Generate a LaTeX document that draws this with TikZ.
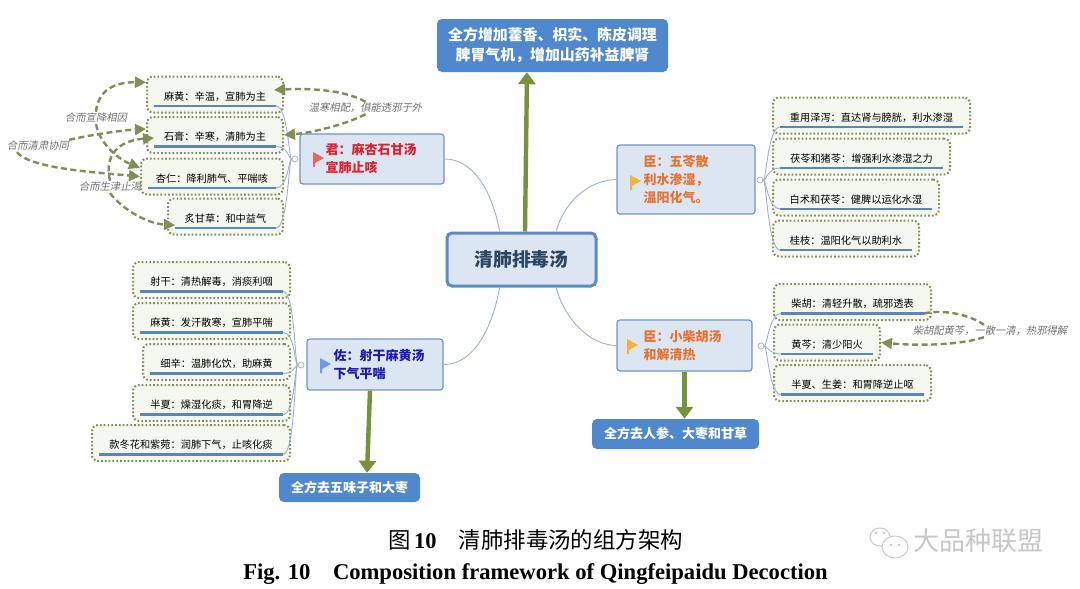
\documentclass[tikz,border=0pt]{standalone}
\usepackage{fontspec}
\setmainfont{Noto Sans CJK SC}
\newfontfamily\annfont[FakeSlant=0.2]{Noto Sans CJK SC}
\newfontfamily\capfont{Liberation Serif}
\usetikzlibrary{arrows.meta,positioning,calc}
\definecolor{oliv}{HTML}{76923C}
\definecolor{olivd}{HTML}{7F8F55}
\definecolor{boxb}{HTML}{4F88CC}
\definecolor{boxl}{HTML}{DCE6F2}
\definecolor{edgeb}{HTML}{7394BE}
\definecolor{coreb}{HTML}{5B8AC4}
\definecolor{lnb}{HTML}{5B85BD}
\definecolor{thinb}{HTML}{9FB1CA}
\definecolor{leaff}{HTML}{F5F8EE}
\definecolor{txred}{HTML}{E0202F}
\definecolor{txora}{HTML}{E97132}
\definecolor{txblu}{HTML}{1A1AB8}
\definecolor{flred}{HTML}{E8636A}
\definecolor{flyel}{HTML}{F5B335}
\definecolor{flblu}{HTML}{6E9DE6}
\begin{document}
\begin{tikzpicture}[x=1pt,y=-1pt,
  lf/.style={draw=olivd, fill=leaff, rounded corners=6pt, line width=2pt, dash pattern=on 1.7pt off 2.1pt, minimum height=36pt, inner sep=0pt, text height=11.5pt, text depth=0pt, font=\fontsize{10.2}{13}\selectfont},
  grp/.style={draw=edgeb, fill=boxl, rounded corners=3pt, line width=1.2pt, inner sep=0pt},
  gtx/.style={anchor=west, inner sep=0pt, align=left, font=\fontsize{13}{18}\selectfont\bfseries},
  res/.style={fill=boxb, rounded corners=5pt, text=white, inner sep=0pt, align=center, font=\fontsize{13}{20}\selectfont\bfseries},
  ann/.style={text=black!55, inner sep=0pt, minimum height=12pt, font=\annfont\fontsize{10.3}{12}\selectfont},
  hub/.style={circle, draw=thinb, fill=white, line width=.7pt, minimum size=6pt, inner sep=0pt},
  uline/.style={draw=lnb, line width=2.2pt},
  branch/.style={draw=thinb, line width=.9pt},
  bigarr/.style={draw=oliv, line width=4.4pt, -{Triangle[length=12pt,width=17pt]}},
  dsh/.style={draw=olivd, line width=2.4pt, dash pattern=on 6pt off 3.5pt},
  dsharr/.style={dsh, -{Triangle[length=11pt,width=11pt]}}]
\useasboundingbox (0,0) rectangle (1080,589);

\node[draw=coreb, fill=boxl, rounded corners=5pt, line width=3pt, minimum width=149pt, minimum height=53pt, inner sep=0pt, text=black!50!coreb, font=\fontsize{18.8}{22}\selectfont\bfseries] (core) at (521.5,259.5) {清肺排毒汤};

\node[grp, minimum width=144pt, minimum height=50pt] (jun) at (372,159) {};
\node[grp, minimum width=138pt, minimum height=69pt] (chw) at (686,179.5) {};
\node[grp, minimum width=136pt, minimum height=51pt] (zuo) at (375,364.5) {};
\node[grp, minimum width=135pt, minimum height=51pt] (chx) at (684.5,345.5) {};
\node[gtx, text=txred] (junt) at ([xshift=26]jun.west) {君：麻杏石甘汤\\宣肺止咳};
\node[gtx, text=txora] (chwt) at ([xshift=27]chw.west) {臣：五苓散\\利水渗湿，\\温阳化气。};
\node[gtx, text=txblu] (zuot) at ([xshift=27]zuo.west) {佐：射干麻黄汤\\下气平喘};
\node[gtx, text=txora] (chxt) at ([xshift=27]chx.west) {臣：小柴胡汤\\和解清热};

\foreach \fx/\fy/\fc in {313/152/flred, 630/175/flyel, 320/358/flblu, 627/339/flyel}
  \fill[\fc] (\fx,\fy) -- ++(11,6) -- ++(-9,5) -- ++(0,4) -- ++(-2,0) -- cycle;

\node[res, minimum width=231pt, minimum height=53pt, font=\fontsize{14.9}{20}\selectfont\bfseries] (top) at (552.5,45.5) {全方增加藿香、枳实、陈皮调理\\脾胃气机，增加山药补益脾肾};
\node[res, minimum width=141pt, minimum height=29pt] (qw) at (349.5,487.5) {全方去五味子和大枣};
\node[res, minimum width=167pt, minimum height=30pt] (qr) at (675.5,434) {全方去人参、大枣和甘草};

\draw[branch] (core.128) .. controls (491,185) and (470,159) .. (jun.east);
\draw[branch] (core.39) .. controls (565,200) and (590,180) .. (chw.west);
\draw[branch] (core.232) .. controls (491,335) and (470,365) .. (zuo.east);
\draw[branch] (core.-39) .. controls (565,320) and (590,345) .. (chx.west);

\draw[bigarr] ([xshift=3.5]core.north) -- ([xshift=-25.5]top.south);
\draw[bigarr] ([xshift=-5]zuo.south) -- ([xshift=17.5]qw.north);
\draw[bigarr] (chx.south) -- ([xshift=9]qr.north);

\foreach \nm/\xa/\xb/\ym/\txt in {
  j1/147/283/94.5/{麻黄：辛温，宣肺为主},
  j2/147/283/135/{石膏：辛寒，清肺为主},
  j3/141/283/176.5/{杏仁：降利肺气、平喘咳},
  j4/168/283/216.5/{炙甘草：和中益气},
  z1/133/290/280/{射干：清热解毒，消痰利咽},
  z2/133/290/321/{麻黄：发汗散寒，宣肺平喘},
  z3/143/290/362/{细辛：温肺化饮，助麻黄},
  z4/133/290/403/{半夏：燥湿化痰，和胃降逆},
  z5/92/290/443/{款冬花和紫菀：润肺下气，止咳化痰},
  w1/773/970/115.5/{重用泽泻：直达肾与膀胱，利水渗湿},
  w2/773/950/156.5/{茯苓和猪苓：增强利水渗湿之力},
  w3/773/939/197.5/{白术和茯苓：健脾以运化水湿},
  w4/773/919/238.5/{桂枝：温阳化气以助利水},
  x1/774/931/302/{柴胡：清轻升散，疏邪透表},
  x2/774/880/342.5/{黄芩：清少阳火},
  x3/774/931/383/{半夏、生姜：和胃降逆止呕}} {
  \node[lf, minimum width={(\xb-\xa)*1pt}] (\nm) at ({(\xa+\xb)/2},\ym) {\txt};
  \coordinate (\nm-l) at ([shift={(8,-7.5)}]\nm.south west);
  \coordinate (\nm-r) at ([shift={(-8,-7.5)}]\nm.south east);
  \draw[uline] (\nm-l) -- (\nm-r);
}

\node[hub] (hj) at (295,159) {};
\node[hub] (hz) at (301,365) {};
\node[hub] (hw) at (760,180) {};
\node[hub] (hx) at (761,346) {};
\foreach \nm in {j1,j2,j3,j4} \draw[branch] (\nm-r) .. controls ($(\nm-r)+(12,0)$) and ($(hj.west)+(-3,0)$) .. (hj.west);
\foreach \nm in {z1,z2,z3,z4,z5} \draw[branch] (\nm-r) .. controls ($(\nm-r)+(12,0)$) and ($(hz.west)+(-3,0)$) .. (hz.west);
\foreach \nm in {w1,w2,w3,w4} \draw[branch] (hw.east) .. controls ($(hw.east)+(3,0)$) and ($(\nm-l)+(-12,0)$) .. (\nm-l);
\foreach \nm in {x1,x2,x3} \draw[branch] (hx.east) .. controls ($(hx.east)+(3,0)$) and ($(\nm-l)+(-12,0)$) .. (\nm-l);

\node[ann] (a1) at (96,118) {合而宣降相因};
\node[ann] (a2) at (38,146) {合而清肃协同};
\node[ann] (a3) at (110,187) {合而生津止渴};
\node[ann] (a4) at (365.5,108) {温寒相配，俱能透邪于外};
\node[ann] (a5) at (990,331) {柴胡配黄芩，一散一清，热邪得解};

\draw[dsharr] (a1.north) .. controls (98,90) and (115,82) .. (j1.170);
\draw[dsharr] (a1.south) .. controls (100,145) and (120,160) .. (j3.173);
\draw[dsharr] (a2.north east) .. controls (95,134) and (125,130) .. (j2.175);
\draw[dsharr] ([xshift=10]a2.south west) .. controls (30,168) and (90,172) .. (j3.west);
\draw[dsharr] (a3.north) .. controls (103,150) and (125,140) .. ($(j2.west)+(8,3)$);
\draw[dsharr] (a3.south) .. controls (125,212) and (150,224) .. ($(j4.west)+(8,8.5)$);
\draw[dsharr] (a4.north) .. controls (345,90) and (310,88) .. ($(j1.east)+(-10,-4.5)$);
\draw[dsharr] (a4.south) .. controls (345,125) and (310,133) .. (j2.east);
\draw[dsh] (x1-r) .. controls (945,309) and (970,315) .. ([xshift=-6]a5.north);
\draw[dsharr] ([xshift=-6]a5.south) .. controls (960,345) and (920,346) .. (x2.east);

\fill[white, draw=black!20, line width=1pt] (880,537) ellipse (10 and 9);
\fill[white, draw=black!20, line width=1pt] (895,547) ellipse (13 and 11);
\foreach \ex/\ey in {876/533,884/533,891/545,899/545} \fill[black!22] (\ex,\ey) circle (1.3);

\node[inner sep=0pt, text=black!22, font=\fontsize{26}{30}\selectfont] (wm) at (978.5,540.5) {大品种联盟};
\node[inner sep=0pt, font=\fontsize{22.4}{26}\selectfont, text=black] (capc) at (535.5,540) {图{\capfont\bfseries\,10}\hspace{1em}清肺排毒汤的组方架构};
\node[inner sep=0pt, font=\capfont\bfseries\fontsize{22.6}{26}\selectfont] (cape) at (535.5,574) {Fig. 10\hspace{1em}Composition framework of Qingfeipaidu Decoction};
\end{tikzpicture}
\end{document}
